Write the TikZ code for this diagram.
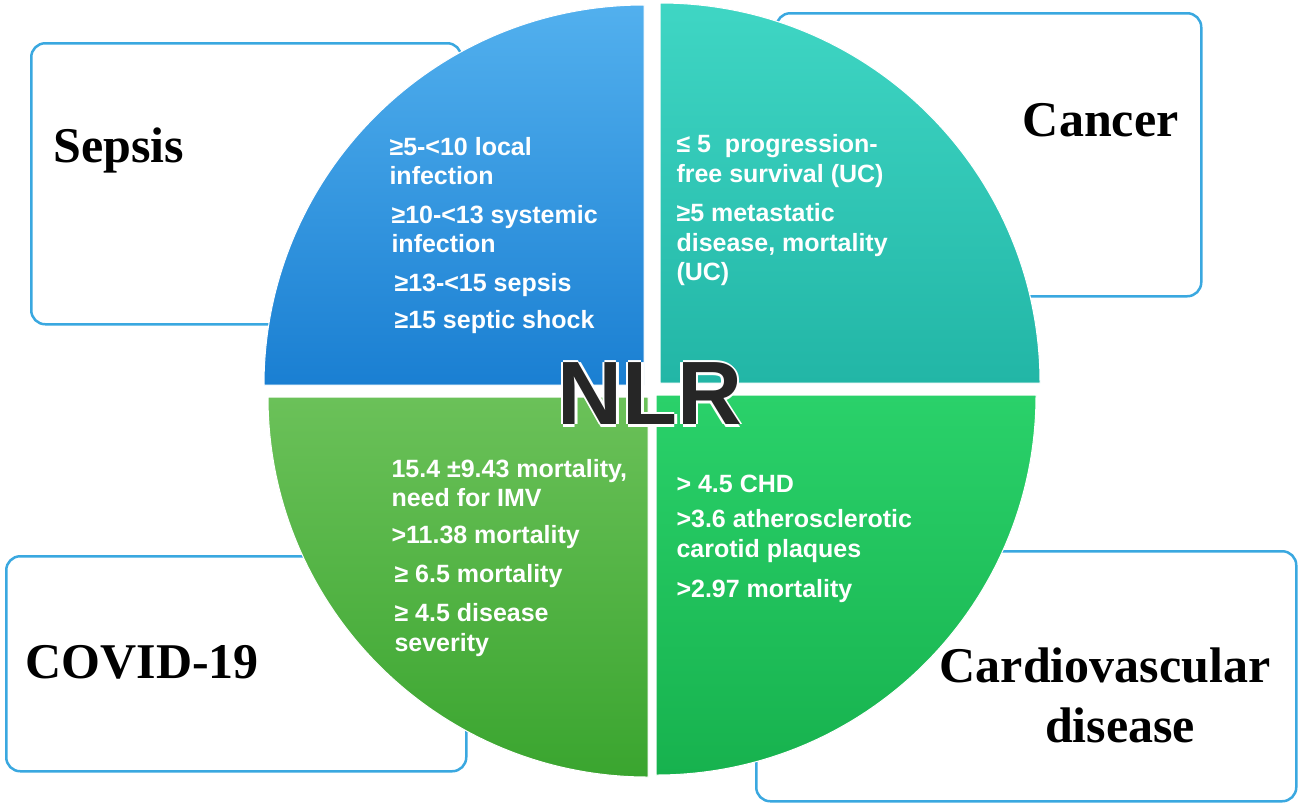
\documentclass[tikz,border=0pt]{standalone}
\usepackage{fontspec}
\setmainfont{Liberation Serif}
\newfontfamily\sansf{Liberation Sans}
\definecolor{tlA}{HTML}{52B0EE}\definecolor{tlB}{HTML}{1A7FD2}
\definecolor{trA}{HTML}{3FD6C4}\definecolor{trB}{HTML}{22B6A6}
\definecolor{blA}{HTML}{6BC159}\definecolor{blB}{HTML}{3AA52F}
\definecolor{brA}{HTML}{2AD16A}\definecolor{brB}{HTML}{17B24E}
\definecolor{bord}{HTML}{3AA8E0}
\begin{document}
\begin{tikzpicture}[x=1pt,y=-1pt,
 box/.style={draw=bord, line width=2.5pt, rounded corners=14pt, fill=white},
 lab/.style={font=\fontsize{50}{60}\selectfont\bfseries, align=center},
 q/.style={draw=white, line width=1pt},
 big/.style={font=\sansf\fontsize{90}{90}\selectfont\bfseries},
 t/.style={font=\sansf\fontsize{25}{29.5}\selectfont\bfseries, text=white, anchor=west, align=left}]
\useasboundingbox (0,0) rectangle (1300,804);
\fill[white] (0,0) rectangle (1300,804);
\node[box, minimum width=430, minimum height=281, anchor=north west] (bs) at (30,42) {};
\node[box, minimum width=425, minimum height=283, anchor=north west] (bc) at (775,12) {};
\node[box, minimum width=460, minimum height=215, anchor=north west] (bv) at (5,555) {};
\node[box, minimum width=540, minimum height=250, anchor=north west] (bd) at (755,550) {};
\node[lab, anchor=west] (ls) at (50,150) {Sepsis};
\node[lab, anchor=east] (lc) at (1182,120) {Cancer};
\node[lab, anchor=west] (lv) at (22,662) {COVID-19};
\node[lab] (ld) at (1105,695) {Cardiovascular\\\hspace*{30pt}disease};
% quadrants
\shade[q, top color=tlA, bottom color=tlB] (644,385) -- (264,385) arc[start angle=180,end angle=270,radius=380] -- cycle;
\shade[q, top color=trA, bottom color=trB] (660,383) -- (660,3) arc[start angle=270,end angle=360,radius=380] -- cycle;
\shade[q, top color=blA, bottom color=blB] (648,397) -- (268,397) arc[start angle=180,end angle=90,radius=380] -- cycle;
\shade[q, top color=brA, bottom color=brB] (656,395) -- (1036,395) arc[start angle=0,end angle=90,radius=380] -- cycle;
% texts
\node[t] (s1) at (386,161) {≥5-<10 local\\infection};
\node[t] (s2) at (388,229) {≥10-<13 systemic\\infection};
\node[t] (s3) at (391,285) {≥13-<15 sepsis};
\node[t] (s4) at (391,322) {≥15 septic shock};
\node[t] (c1) at (673,161) {≤ 5 \ progression-\\free survival (UC)};
\node[t] (c2) at (673,245) {≥5 metastatic\\disease, mortality\\(UC)};
\node[t] (v1) at (388,483) {15.4 ±9.43 mortality,\\need for IMV};
\node[t] (v2) at (388,537) {>11.38 mortality};
\node[t] (v3) at (391,576) {≥ 6.5 mortality};
\node[t] (v4) at (391,630) {≥ 4.5 disease\\severity};
\node[t] (d1) at (673,484) {> 4.5 CHD};
\node[t] (d2) at (673,536) {>3.6 atherosclerotic\\carotid plaques};
\node[t] (d3) at (673,591) {>2.97 mortality};
\foreach \dx/\dy in {-2.5/0,2.5/0,0/-2.5,0/2.5}
  \node[big, text=white] at (650+\dx,394+\dy) {NLR};
\node[big, text=black!85] (nlr) at (650,394) {NLR};
\end{tikzpicture}
\end{document}
